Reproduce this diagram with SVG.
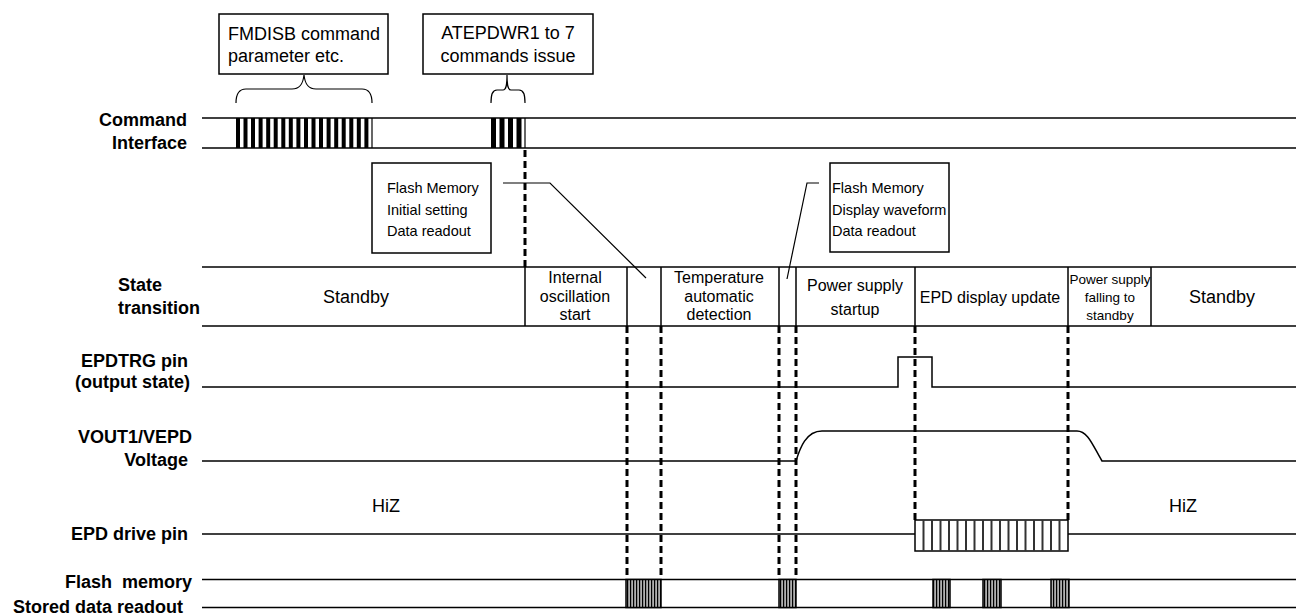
<svg xmlns="http://www.w3.org/2000/svg" width="1296" height="615" viewBox="0 0 1296 615">
<style>
  .ln{stroke:#000;stroke-width:1.5;fill:none}
  .thin{stroke:#000;stroke-width:1.2;fill:none}
  .box{stroke:#000;stroke-width:1.5;fill:#fff}
  .dash{stroke:#000;stroke-width:3;stroke-dasharray:7 4;fill:none}
  .lbl{font-family:"Liberation Sans",Arial,sans-serif;font-weight:bold;font-size:18px;fill:#000}
  .t18{font-family:"Liberation Sans",Arial,sans-serif;font-size:18px;fill:#000}
  .t16{font-family:"Liberation Sans",Arial,sans-serif;font-size:16px;fill:#000;text-anchor:middle}
  .t15{font-family:"Liberation Sans",Arial,sans-serif;font-size:14.5px;fill:#000}
  .t13{font-family:"Liberation Sans",Arial,sans-serif;font-size:13.5px;fill:#000;text-anchor:middle}
  .bar{fill:#000}
</style>
<defs>
  <pattern id="fm" x="0" y="0" width="3" height="10" patternUnits="userSpaceOnUse">
    <rect x="0" y="0" width="3" height="10" fill="#b0b0b0"/>
    <rect x="0" y="0" width="1.2" height="10" fill="#000"/>
  </pattern>
</defs>
<rect width="1296" height="615" fill="#fff"/>

<!-- labels -->
<g id="labels">
  <text class="lbl" x="187" y="126" text-anchor="end">Command</text>
  <text class="lbl" x="187" y="149" text-anchor="end">Interface</text>
  <text class="lbl" x="118" y="291">State</text>
  <text class="lbl" x="118" y="314">transition</text>
  <text class="lbl" x="188" y="367" text-anchor="end">EPDTRG pin</text>
  <text class="lbl" x="190" y="388" text-anchor="end">(output state)</text>
  <text class="lbl" x="192" y="443" text-anchor="end">VOUT1/VEPD</text>
  <text class="lbl" x="188" y="466" text-anchor="end">Voltage</text>
  <text class="lbl" x="188" y="540" text-anchor="end">EPD drive pin</text>
  <text class="lbl" x="192" y="588" text-anchor="end" xml:space="preserve">Flash  memory</text>
  <text class="lbl" x="183" y="613" text-anchor="end">Stored data readout</text>
</g>

<!-- Command interface row -->
<g id="command-interface">
  <line class="ln" x1="202" y1="118" x2="1296" y2="118"/>
  <line class="ln" x1="202" y1="148" x2="1296" y2="148"/>
  <g id="cmd-block1">
    <rect class="bar" x="236" y="118" width="4" height="30"/>
    <rect class="bar" x="243.5" y="118" width="4" height="30"/>
    <rect class="bar" x="251" y="118" width="4" height="30"/>
    <rect class="bar" x="258.6" y="118" width="4" height="30"/>
    <rect class="bar" x="266.2" y="118" width="4" height="30"/>
    <rect class="bar" x="273.7" y="118" width="4" height="30"/>
    <rect class="bar" x="281.3" y="118" width="4" height="30"/>
    <rect class="bar" x="288.8" y="118" width="4" height="30"/>
    <rect class="bar" x="296.4" y="118" width="4" height="30"/>
    <rect class="bar" x="304" y="118" width="4" height="30"/>
    <rect class="bar" x="311.5" y="118" width="4" height="30"/>
    <rect class="bar" x="319" y="118" width="4" height="30"/>
    <rect class="bar" x="326.6" y="118" width="4" height="30"/>
    <rect class="bar" x="334.2" y="118" width="4" height="30"/>
    <rect class="bar" x="341.7" y="118" width="4" height="30"/>
    <rect class="bar" x="349.3" y="118" width="4" height="30"/>
    <rect class="bar" x="356.8" y="118" width="4" height="30"/>
    <rect class="bar" x="364.4" y="118" width="4" height="30"/>
    <line class="thin" x1="372" y1="118" x2="372" y2="148"/>
  </g>
  <g id="cmd-block2">
    <rect class="bar" x="491" y="118" width="5" height="30"/>
    <rect class="bar" x="499.5" y="118" width="5" height="30"/>
    <rect class="bar" x="508" y="118" width="5" height="30"/>
    <rect class="bar" x="516.5" y="118" width="5" height="30"/>
    <line class="thin" x1="525" y1="118" x2="525" y2="148"/>
  </g>
</g>

<!-- Callouts -->
<g id="callout-fmdisb">
  <rect class="box" x="219" y="14" width="169" height="60"/>
  <text class="t18" x="228" y="40">FMDISB command</text>
  <text class="t18" x="228" y="62">parameter etc.</text>
</g>
<g id="callout-atepdwr">
  <rect class="box" x="423" y="14" width="170" height="60"/>
  <text class="t18" x="508" y="39" text-anchor="middle">ATEPDWR1 to 7</text>
  <text class="t18" x="508" y="62" text-anchor="middle">commands issue</text>
</g>
<g id="callout-flash-init">
  <rect class="box" x="372" y="163" width="119" height="90"/>
  <text class="t15" x="387" y="193">Flash Memory</text>
  <text class="t15" x="387" y="215">Initial setting</text>
  <text class="t15" x="387" y="236">Data readout</text>
</g>
<g id="callout-flash-wave">
  <rect class="box" x="830" y="163" width="119" height="89"/>
  <text class="t15" x="832" y="193">Flash Memory</text>
  <text class="t15" x="832" y="215">Display waveform</text>
  <text class="t15" x="832" y="236">Data readout</text>
</g>

<!-- State transition row -->
<g id="state-transition">
  <line class="ln" x1="202" y1="267" x2="1296" y2="267"/>
  <line class="ln" x1="202" y1="326" x2="1296" y2="326"/>
  <line class="ln" x1="525" y1="267" x2="525" y2="326"/>
  <line class="ln" x1="627" y1="267" x2="627" y2="326"/>
  <line class="ln" x1="661" y1="267" x2="661" y2="326"/>
  <line class="ln" x1="779" y1="267" x2="779" y2="326"/>
  <line class="ln" x1="796" y1="267" x2="796" y2="326"/>
  <line class="ln" x1="915" y1="267" x2="915" y2="326"/>
  <line class="ln" x1="1068" y1="267" x2="1068" y2="326"/>
  <line class="ln" x1="1151" y1="267" x2="1151" y2="326"/>
  <g id="st-standby1"><text class="t18" x="356" y="303" text-anchor="middle">Standby</text></g>
  <g id="st-osc">
    <text class="t16" x="575" y="283">Internal</text>
    <text class="t16" x="575" y="301.5">oscillation</text>
    <text class="t16" x="575" y="320">start</text>
  </g>
  <g id="st-temp">
    <text class="t16" x="719" y="283" font-size="15.5">Temperature</text>
    <text class="t16" x="719" y="301.5" font-size="15.5">automatic</text>
    <text class="t16" x="719" y="320" font-size="15.5">detection</text>
  </g>
  <g id="st-power-up">
    <text class="t16" x="855" y="291">Power supply</text>
    <text class="t16" x="855" y="315">startup</text>
  </g>
  <g id="st-epd-update"><text class="t16" x="990" y="303">EPD display update</text></g>
  <g id="st-power-down">
    <text class="t13" x="1110" y="284">Power supply</text>
    <text class="t13" x="1110" y="302">falling to</text>
    <text class="t13" x="1110" y="320">standby</text>
  </g>
  <g id="st-standby2"><text class="t18" x="1222" y="303" text-anchor="middle">Standby</text></g>
</g>

<!-- EPDTRG -->
<g id="epdtrg">
  <path class="ln" d="M202,387 L898,387 L898,357 L932,357 L932,387 L1296,387"/>
</g>

<!-- VOUT -->
<g id="vout">
  <path class="ln" d="M202,461 L796,461 C800,448 806,431 822,431 L1077,431 C1088,431 1093,446 1102,461 L1296,461"/>
</g>

<!-- EPD drive pin -->
<g id="epd-drive">
  <line class="ln" x1="202" y1="534" x2="915" y2="534"/>
  <line class="ln" x1="1068" y1="534" x2="1296" y2="534"/>
  <rect class="box" x="915" y="520" width="153" height="31"/>
  <g stroke="#333" stroke-width="2">
    <line x1="923.5" y1="520" x2="923.5" y2="551"/>
    <line x1="932" y1="520" x2="932" y2="551"/>
    <line x1="940.5" y1="520" x2="940.5" y2="551"/>
    <line x1="949" y1="520" x2="949" y2="551"/>
    <line x1="957.5" y1="520" x2="957.5" y2="551"/>
    <line x1="966" y1="520" x2="966" y2="551"/>
    <line x1="974.5" y1="520" x2="974.5" y2="551"/>
    <line x1="983" y1="520" x2="983" y2="551"/>
    <line x1="991.5" y1="520" x2="991.5" y2="551"/>
    <line x1="1000" y1="520" x2="1000" y2="551"/>
    <line x1="1008.5" y1="520" x2="1008.5" y2="551"/>
    <line x1="1017" y1="520" x2="1017" y2="551"/>
    <line x1="1025.5" y1="520" x2="1025.5" y2="551"/>
    <line x1="1034" y1="520" x2="1034" y2="551"/>
    <line x1="1042.5" y1="520" x2="1042.5" y2="551"/>
    <line x1="1051" y1="520" x2="1051" y2="551"/>
    <line x1="1059.5" y1="520" x2="1059.5" y2="551"/>
  </g>
  <text class="t18" x="386" y="512" text-anchor="middle">HiZ</text>
  <text class="t18" x="1183" y="512" text-anchor="middle">HiZ</text>
</g>

<!-- Flash memory stored data readout -->
<g id="flash-readout">
  <line class="ln" x1="202" y1="579.5" x2="1296" y2="579.5"/>
  <line class="ln" x1="202" y1="607.5" x2="1296" y2="607.5"/>
  <rect x="626" y="579.5" width="35" height="28" fill="url(#fm)" stroke="#000" stroke-width="1.5"/>
  <rect x="779" y="579.5" width="17" height="28" fill="url(#fm)" stroke="#000" stroke-width="1.5"/>
  <rect x="933" y="579.5" width="17" height="28" fill="url(#fm)" stroke="#000" stroke-width="1.5"/>
  <rect x="983" y="579.5" width="18" height="28" fill="url(#fm)" stroke="#000" stroke-width="1.5"/>
  <rect x="1051" y="579.5" width="18" height="28" fill="url(#fm)" stroke="#000" stroke-width="1.5"/>
</g>

<!-- connectors: braces, leaders, dashed timing markers -->
<g id="connectors">
  <path class="thin" d="M236,103 C236,95 238,89 246,89 L292,89 C300,89 303,84 304,75 C305,84 308,89 316,89 L362,89 C370,89 372,95 372,103"/>
  <path class="thin" d="M491,103 C491,95 492,90 497,90 L503,90 C506,90 507,86 507,75 C507,86 508,90 511,90 L519,90 C524,90 525,95 525,103"/>
  <path class="thin" d="M503,183 L550,183 L646,278"/>
  <path class="thin" d="M819,183 L807,183 L787,279"/>
  <line class="dash" x1="525" y1="150" x2="525" y2="267"/>
  <line class="dash" x1="627" y1="326" x2="627" y2="579"/>
  <line class="dash" x1="661" y1="326" x2="661" y2="579"/>
  <line class="dash" x1="779" y1="326" x2="779" y2="579"/>
  <line class="dash" x1="796" y1="326" x2="796" y2="579"/>
  <line class="dash" x1="915" y1="326" x2="915" y2="520"/>
  <line class="dash" x1="1068" y1="326" x2="1068" y2="520"/>
</g>
</svg>
